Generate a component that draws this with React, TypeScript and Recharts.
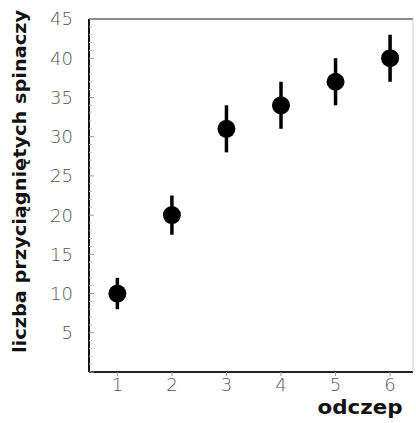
import {
  ScatterChart,
  Scatter,
  XAxis,
  YAxis,
  ErrorBar,
  Label,
} from "recharts";

const hooks = [1, 2, 3, 4, 5, 6];
const clips = [10, 20, 31, 34, 37, 40];
const clipsErr = [2, 2.5, 3, 3, 3, 3];

// every unit gets a small tick, every fifth one a label
const yTicks = [
  0, 1, 2, 3, 4, 5, 6, 7, 8, 9, 10, 11, 12, 13, 14, 15, 16, 17, 18, 19, 20, 21, 22,
  23, 24, 25, 26, 27, 28, 29, 30, 31, 32, 33, 34, 35, 36, 37, 38, 39, 40, 41, 42, 43,
  44, 45,
];

const yLabel = "liczba przyciągniętych spinaczy";
const xLabel = "odczep";

const xDomain = [0.48, 6.42];
const yDomain = [0, 45];

const data = hooks.map((h, i) => ({ x: h, y: clips[i], err: clipsErr[i] }));

const tickStyle = {
  fontFamily: "DejaVu Sans",
  fontWeight: 300,
  fontSize: 18,
  fill: "#555",
};

const titleFont = "'DejaVu Sans', sans-serif";
const Y_TICK_GAP = 16;

function Dot(props: any) {
  const { cx, cy } = props;
  if (cx == null || cy == null) return null;
  return <circle cx={cx} cy={cy} r={9} fill="#000" />;
}

function NoDot() {
  return <g />;
}

function YTick(props: any) {
  const { x, y, payload } = props;
  const v = payload.value;
  const major = v % 5 === 0;
  const ax = x + Y_TICK_GAP;
  return (
    <g>
      <line
        x1={ax}
        x2={ax + (major ? 5 : 3)}
        y1={y}
        y2={y}
        stroke={major ? "#999" : "#c4c4c4"}
        strokeWidth={1}
      />
      {major && v > 0 && (
        <text
          x={x}
          y={y}
          dy="0.36em"
          textAnchor="end"
          fontFamily={tickStyle.fontFamily}
          fontWeight={tickStyle.fontWeight}
          fontSize={tickStyle.fontSize}
          fill={tickStyle.fill}
        >
          {v}
        </text>
      )}
    </g>
  );
}

function YTitle(props: any) {
  const { viewBox } = props;
  const x = viewBox.x + 26;
  const y = viewBox.y + viewBox.height / 2 - 14;
  return (
    <text
      x={x}
      y={y}
      transform={`rotate(-90, ${x}, ${y})`}
      textAnchor="middle"
      fontFamily={titleFont}
      fontWeight="bold"
      fontSize={18}
      fill="#111"
      textLength={343}
      lengthAdjust="spacingAndGlyphs"
    >
      {yLabel}
    </text>
  );
}

function XTitle(props: any) {
  const { viewBox } = props;
  const x = viewBox.x + viewBox.width - 53;
  const y = viewBox.y + 42;
  return (
    <text
      x={x}
      y={y}
      textAnchor="middle"
      fontFamily={titleFont}
      fontWeight="bold"
      fontSize={20}
      fill="#111"
      textLength={85}
      lengthAdjust="spacingAndGlyphs"
    >
      {xLabel}
    </text>
  );
}

export default function App() {
  return (
    <div
      style={{
        position: "absolute",
        left: 0,
        top: 0,
        width: 416,
        height: 423,
        overflow: "hidden",
        background: "#fff",
      }}
    >
      <ScatterChart
        width={416}
        height={423}
        margin={{ top: 18, right: 2, bottom: 21, left: 0 }}
      >
        <XAxis
          xAxisId="main"
          type="number"
          dataKey="x"
          domain={xDomain}
          ticks={hooks}
          allowDataOverflow
          height={30}
          axisLine={{ stroke: "#222", strokeWidth: 2 }}
          tickLine={{ stroke: "#999" }}
          tickSize={4}
          tickMargin={2}
          tick={tickStyle}
        >
          <Label content={XTitle} />
        </XAxis>
        <XAxis
          xAxisId="top"
          orientation="top"
          type="number"
          dataKey="x"
          domain={xDomain}
          allowDataOverflow
          height={1}
          tick={false}
          tickLine={false}
          axisLine={{ stroke: "#888", strokeWidth: 2 }}
        />
        <YAxis
          yAxisId="main"
          type="number"
          dataKey="y"
          domain={yDomain}
          ticks={yTicks}
          interval={0}
          allowDataOverflow
          width={89}
          tickLine={false}
          tickSize={0}
          tickMargin={Y_TICK_GAP}
          tick={YTick}
          axisLine={{ stroke: "#111", strokeWidth: 2 }}
        >
          <Label content={YTitle} />
        </YAxis>
        <YAxis
          yAxisId="right"
          orientation="right"
          type="number"
          dataKey="y"
          domain={yDomain}
          allowDataOverflow
          width={1}
          tick={false}
          tickLine={false}
          axisLine={{ stroke: "#ccc", strokeWidth: 1 }}
        />
        <Scatter
          data={data}
          xAxisId="top"
          yAxisId="right"
          dataKey="y"
          shape={NoDot}
          isAnimationActive={false}
        />
        <Scatter
          data={data}
          xAxisId="main"
          yAxisId="main"
          dataKey="y"
          shape={Dot}
          isAnimationActive={false}
        >
          <ErrorBar
            dataKey="err"
            direction="y"
            width={0}
            stroke="#000"
            strokeWidth={3.5}
            isAnimationActive={false}
          />
        </Scatter>
      </ScatterChart>
    </div>
  );
}
